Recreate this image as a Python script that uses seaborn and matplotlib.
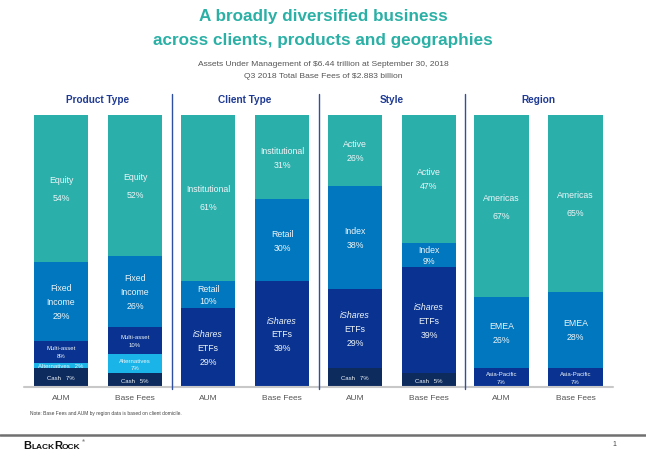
import numpy as np
import matplotlib
matplotlib.use("Agg")
import matplotlib.pyplot as plt
import seaborn as sns
from matplotlib.lines import Line2D

sns.set_style("white")
plt.rcParams['font.family'] = ['Liberation Sans', 'DejaVu Sans']

# data (percent of total, bottom segment first)
cats = ["AUM", "Base Fees"]

product_names = ["Cash", "Alternatives", "Multi-asset", "Fixed Income", "Equity"]
product_aum = [7, 2, 8, 29, 54]
product_fees = [5, 7, 10, 26, 52]

client_names = ["iShares ETFs", "Retail", "Institutional"]
client_aum = [29, 10, 61]
client_fees = [39, 30, 31]

style_names = ["Cash", "iShares ETFs", "Index", "Active"]
style_aum = [7, 29, 38, 26]
style_fees = [5, 39, 9, 47]

region_names = ["Asia-Pacific", "EMEA", "Americas"]
region_aum = [7, 26, 67]
region_fees = [7, 28, 65]

group_titles = ["Product Type", "Client Type", "Style", "Region"]

colors = {
    "Equity": "#2AAFAA", "Institutional": "#2AAFAA", "Active": "#2AAFAA", "Americas": "#2AAFAA",
    "Fixed Income": "#0077BE", "Retail": "#0077BE", "Index": "#0077BE", "EMEA": "#0077BE",
    "Multi-asset": "#0A3391", "iShares ETFs": "#0A3391", "Asia-Pacific": "#0A3391",
    "Alternatives": "#1AB4E8", "Cash": "#0E2B5E",
}
small_names = {"Cash", "Alternatives", "Multi-asset", "Asia-Pacific"}
txt_col = "#EEF5F8"

groups = [
    (product_names, product_aum, product_fees),
    (client_names, client_aum, client_fees),
    (style_names, style_aum, style_fees),
    (region_names, region_aum, region_fees),
]

W, H = 646, 460
fig = plt.figure(figsize=(W / 100, H / 100), dpi=100)

ax_left = [24, 171, 318, 464.5]
ax_w = 148
bar_top, bar_bot = 116, 388


def seg_label(ax, x, y, name, val):
    if name in small_names:
        size = 4.3
        if name == "Cash" or val < 4:
            lines = [f"{name}   {val}%"]
        else:
            lines = [name, f"{val}%"]
        gap = 5.5
    else:
        size = 6.3
        lines = name.split(" ") + [f"{val}%"]
        gap = 13 if val >= 50 else (10 if val >= 20 else 8.5)
    n = len(lines)
    for i, line in enumerate(lines):
        off = ((n - 1) / 2 - i) * gap
        ax.annotate(line, (x, y), xytext=(0, off), textcoords="offset points",
                    ha="center", va="center", fontsize=size, color=txt_col,
                    style="italic" if line == "iShares" else "normal")


for g, (names, aum, fees) in enumerate(groups):
    ax = fig.add_axes([ax_left[g] / W, (H - bar_bot) / H, ax_w / W, (bar_bot - bar_top) / H])
    vals = np.array([aum, fees])  # shape (2, nseg)
    tops = np.cumsum(vals, axis=1)
    # draw from the top segment down so lower ones cover the rest
    for k in range(len(names) - 1, -1, -1):
        sns.barplot(x=cats, y=tops[:, k], color=colors[names[k]], saturation=1,
                    width=0.73, linewidth=0, ax=ax)
    for j in range(2):
        for k, name in enumerate(names):
            yc = tops[j, k] - vals[j, k] / 2
            seg_label(ax, j, yc, name, vals[j, k])
    ax.set_xlim(-0.5, 1.5)
    ax.set_ylim(0, 100)
    ax.set_yticks([])
    ax.set_ylabel("")
    sns.despine(ax=ax, left=True, bottom=True)
    ax.axhline(0, color="#C8C8C8", lw=1.5, clip_on=False)
    ax.tick_params(axis="x", length=0, pad=5, labelsize=6, labelcolor="#555555")
    ax.patch.set_alpha(0)
    fig.text((ax_left[g] + ax_w / 2) / W, 1 - 100 / H, group_titles[g],
             ha="center", va="center", fontsize=7.2, fontweight="bold", color="#1E3A94")

# vertical dividers between groups
for xd in [171.5, 318.5, 464.5]:
    fig.add_artist(Line2D([xd / W, xd / W], [1 - 95 / H, 1 - 390 / H],
                          transform=fig.transFigure, color="#2F4FA0", lw=1))

fig.text(0.5, 1 - 16 / H, "A broadly diversified business", ha="center", va="center",
         fontsize=12.3, fontweight="bold", color="#2BB0A6")
fig.text(0.5, 1 - 41 / H, "across clients, products and geographies", ha="center", va="center",
         fontsize=12.3, fontweight="bold", color="#2BB0A6")
fig.text(0.5, 1 - 64 / H, "Assets Under Management of $6.44 trillion at September 30, 2018",
         ha="center", va="center", fontsize=6.1, color="#555555")
fig.text(0.5, 1 - 77 / H, "Q3 2018 Total Base Fees of $2.883 billion",
         ha="center", va="center", fontsize=6.1, color="#555555")

fig.text(30 / W, 1 - 414 / H, "Note: Base Fees and AUM by region data is based on client domicile.",
         ha="left", va="center", fontsize=3.5, color="#444444")
fig.add_artist(Line2D([0, 1], [1 - 436 / H, 1 - 436 / H], transform=fig.transFigure,
                      color="#707070", lw=1.8))

# BlackRock wordmark in small caps: big initials, smaller rest
renderer = fig.canvas.get_renderer()
xpos = 23 / W
for piece, fs in [("B", 8), ("LACK", 6), ("R", 8), ("OCK", 6)]:
    t = fig.text(xpos, 1 - 449 / H, piece, ha="left", va="baseline", fontsize=fs,
                 fontweight="bold", color="#111111")
    bb = t.get_window_extent(renderer)
    xpos = bb.x1 / W
fig.text(xpos + 1 / W, 1 - 442 / H, "®", ha="left", va="baseline", fontsize=3, color="#111111")
fig.text(614 / W, 1 - 445 / H, "1", ha="center", va="center", fontsize=5, color="#444444")

fig.savefig("out.png", dpi=100)
